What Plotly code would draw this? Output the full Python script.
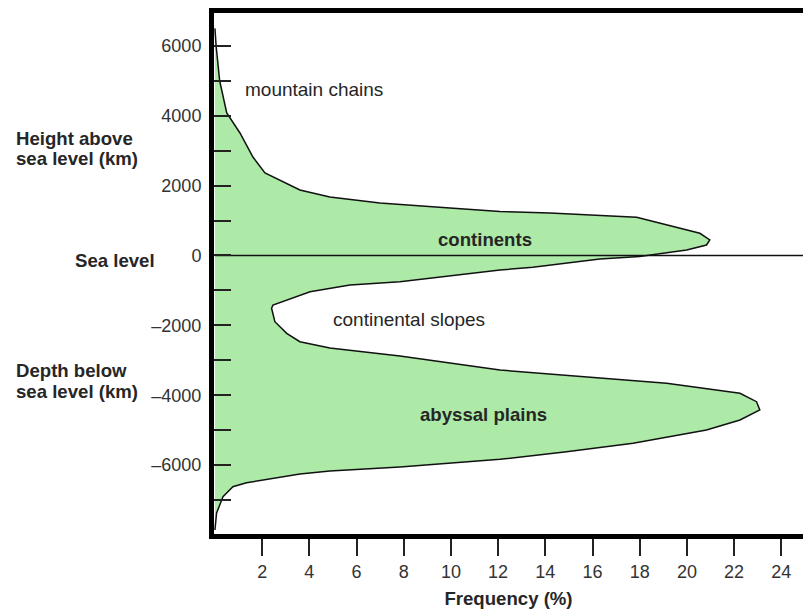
import plotly.graph_objects as go

# Hypsometric curve (frequency % vs elevation m)
freq = [0, 0.05, 0.2, 0.5, 1.06, 1.61, 2.12, 3.18, 3.6, 4.87, 6.99, 9.96, 12.08, 14.19,
        17.87, 20.55, 20.97, 20.83, 19.99, 18.0, 16.31, 13.47, 12.08, 7.84, 5.72, 4.03,
        3.04, 2.46, 2.4, 2.54, 3.04, 3.6, 4.87, 7.84, 12.08, 16.31, 19.14, 22.25, 22.95,
        23.09, 22.25, 20.83, 17.72, 14.9, 12.08, 7.84, 4.87, 3.6, 1.34, 0.76, 0.34, 0.07, 0]
elev = [6500, 6000, 5000, 4080, 3506, 2819, 2361, 2017, 1875, 1674, 1503, 1360, 1259, 1216,
        1093, 635, 444, 300, 157, -29, -100, -338, -415, -750, -844, -1036,
        -1274, -1417, -1511, -1895, -2227, -2467, -2647, -2876, -3277, -3515, -3658, -3944, -4184,
        -4422, -4709, -4995, -5375, -5615, -5833, -6053, -6168, -6254, -6502, -6617, -6903, -7370, -7856]

x_ticks = [2, 4, 6, 8, 10, 12, 14, 16, 18, 20, 22, 24]
y_major = [-6000, -4000, -2000, 0, 2000, 4000, 6000]
y_major_text = ["\u20136000", "\u20134000", "\u20132000", "0", "2000", "4000", "6000"]
y_minor = [-7000, -5000, -3000, -1000, 1000, 3000, 5000]
sea_level = 0

FONT = "Liberation Sans, Arial, Helvetica, sans-serif"
GREEN = "#ADE9A7"
TXT = "#262626"

fig = go.Figure()
fig.add_trace(go.Scatter(x=freq, y=elev, mode="lines", fill="tozerox",
                         fillcolor=GREEN, line=dict(color="#111111", width=1.5),
                         hoverinfo="skip", showlegend=False))
fig.add_trace(go.Scatter(x=[0, 30], y=[sea_level, sea_level], mode="lines",
                         line=dict(color="#111111", width=1.4),
                         hoverinfo="skip", showlegend=False))

fig.update_layout(
    width=803, height=611,
    margin=dict(l=214, r=0, t=13, b=77),
    paper_bgcolor="white", plot_bgcolor="white",
    font=dict(family=FONT, size=18, color=TXT),
    xaxis=dict(range=[-0.04, 24.92], showgrid=False, zeroline=False,
               showline=True, linecolor="black", linewidth=5, mirror=True,
               ticks="outside", ticklen=17, tickwidth=1.5, tickcolor="#222222",
               tickvals=x_ticks, ticktext=[str(v) for v in x_ticks],
               tickfont=dict(family=FONT, size=18, color="#333333"),
               title=dict(text="<b>Frequency (%)</b>", standoff=13,
                          font=dict(family=FONT, size=18.6, color=TXT))),
    yaxis=dict(range=[-7971, 6940], showgrid=False, zeroline=False,
               showline=True, linecolor="black", linewidth=5, mirror=False,
               ticks="inside", ticklen=17, tickwidth=2, tickcolor="#222222",
               tickvals=y_major, ticktext=y_major_text, ticklabelstandoff=4,
               tickfont=dict(family=FONT, size=18, color="#333333"),
               minor=dict(tickvals=y_minor, ticks="inside", ticklen=17,
                          tickwidth=2, tickcolor="#222222")),
)

def ann(text, x, y, xref="x", xanchor="center", bold=False, size=18.6):
    t = f"<b>{text}</b>" if bold else text
    fig.add_annotation(text=t, x=x, y=y, xref=xref, yref="y", xanchor=xanchor,
                       yanchor="middle", showarrow=False,
                       font=dict(family=FONT, size=size, color=TXT))

ann("mountain chains", 1.19, 4737, xanchor="left", size=19)
ann("continents", 11.44, 444, bold=True)
ann("continental slopes", 4.92, -1846, xanchor="left", size=19)
ann("abyssal plains", 11.38, -4565, bold=True)
ann("Height above", -0.3396, 3360, xref="paper", xanchor="left", bold=True)
ann("sea level (km)", -0.3396, 2790, xref="paper", xanchor="left", bold=True)
ann("Sea level", -0.0968, -129, xref="paper", xanchor="right", bold=True)
ann("Depth below", -0.3396, -3300, xref="paper", xanchor="left", bold=True)
ann("sea level (km)", -0.3396, -3880, xref="paper", xanchor="left", bold=True)

fig.write_html("out.html")
